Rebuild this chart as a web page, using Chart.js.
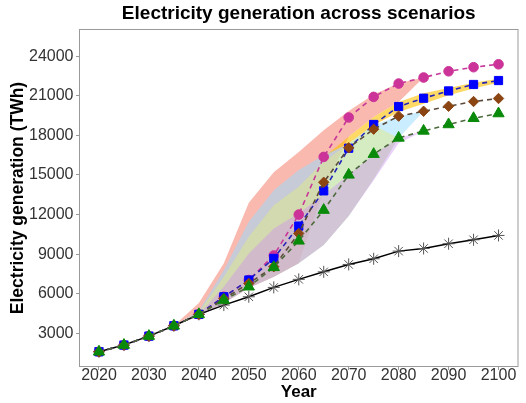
<!DOCTYPE html>
<html>
<head>
<meta charset="utf-8">
<script src="https://cdn.jsdelivr.net/npm/chart.js@4/dist/chart.umd.min.js"></script>
<style>
  html, body { margin: 0; padding: 0; background: #fff; }
  #wrap { width: 526px; height: 403px; }
</style>
</head>
<body>
<div id="wrap"><canvas id="chart"></canvas></div>
<script>
// Years on the x axis
const years = [2020, 2025, 2030, 2035, 2040, 2045, 2050, 2055, 2060, 2065, 2070, 2075, 2080, 2085, 2090, 2095, 2100];
const xTickValues = [2020, 2030, 2040, 2050, 2060, 2070, 2080, 2090, 2100];
const yTickValues = [3000, 6000, 9000, 12000, 15000, 18000, 21000, 24000];

// Scenario trajectories (TWh)
const circleSeries  = [1600, 2110, 2790, 3570, 4440, 5770, 7040, 8900, 12000, 16370, 19360, 20920, 21930, 22390, 22860, 23170, 23390];
const squareSeries  = [1600, 2110, 2790, 3570, 4440, 5770, 7040, 8680, 11130, 13800, 17030, 18830, 20190, 20820, 21370, 21860, 22160];
const diamondSeries = [1600, 2110, 2790, 3570, 4440, 5620, 6780, 8050, 10570, 14450, 17060, 18470, 19460, 19830, 20210, 20570, 20800];
const triangleSeries= [1600, 2110, 2790, 3570, 4440, 5520, 6530, 8000, 10010, 12340, 15010, 16580, 17810, 18340, 18830, 19300, 19660];
const baselineSeries= [1600, 2110, 2790, 3570, 4440, 5140, 5770, 6480, 7090, 7660, 8220, 8650, 9230, 9430, 9790, 10090, 10420];

// Ranges across models (lower / upper), null where no range is shown
const redLow    = [null, null, null, 3570, 4300, 5290, 6430, 7290, 8320, 13800, 17890, 19400, 20540, 22390, null, null, null];
const redHigh   = [null, null, null, 3570, 5300, 8320, 12900, 15200, 16750, 18400, 19850, 21100, 21950, 22390, null, null, null];
const goldLow   = [null, null, null, null, null, null, null, null, null, 16370, 17390, 18770, 19780, 20400, 21050, 21550, 22000];
const goldHigh  = [null, null, null, null, null, null, null, null, null, 16370, 17890, 19400, 20540, 21200, 21600, 22000, 22300];
const skyLow    = [null, null, null, 3570, 4300, 5290, 6430, 7290, 8320, 9700, 11900, 14700, 17810, 19830, null, null, null];
const skyHigh   = [null, null, null, 3570, 4700, 7790, 11450, 13850, 15370, 16500, 17390, 18770, 19460, 19830, null, null, null];
const greenLow  = [null, null, null, 3570, 4300, 5290, 6430, 7290, 8320, 9700, 11900, 14700, 17810, null, null, null, null];
const greenHigh = [null, null, null, 3570, 4600, 7290, 10310, 12700, 14100, 16000, 17390, 18770, 17810, null, null, null, null];
const violetLow = [null, null, null, 3570, 4300, 5290, 6430, 7290, 8320, 9700, 11900, 14600, 17400, 18340, null, null, null];
const violetHigh= [null, null, null, 3570, 4440, 6530, 9050, 10950, 12100, 13500, 15010, 16580, 17810, 18340, null, null, null];

function toPoints(values) {
  const out = [];
  years.forEach((yr, i) => { if (values[i] !== null) out.push({ x: yr, y: values[i] }); });
  return out;
}

function band(low, high, color, order) {
  return [
    { data: toPoints(low), xAxisID: 'x', yAxisID: 'y', borderWidth: 0, pointRadius: 0, fill: false, order: order },
    { data: toPoints(high), xAxisID: 'x', yAxisID: 'y', borderWidth: 0, pointRadius: 0, fill: '-1', backgroundColor: color, order: order }
  ];
}

function scenario(values, lineColor, markColor, style, radius, order) {
  return {
    data: toPoints(values), xAxisID: 'x', yAxisID: 'y',
    borderColor: lineColor, borderWidth: 1.6, borderDash: [5, 4],
    pointStyle: style, pointRadius: radius,
    pointBackgroundColor: markColor, pointBorderColor: markColor, pointBorderWidth: 1,
    fill: false, order: order, tension: 0
  };
}

const FONT = "'Liberation Sans', Arial, sans-serif";

const panelBorder = {
  id: 'panelBorder',
  afterDatasetsDraw(chart) {
    const { ctx, chartArea: { left, top, right, bottom } } = chart;
    ctx.save();
    ctx.strokeStyle = '#9a9a9a';
    ctx.lineWidth = 1;
    ctx.strokeRect(left + 0.5, top + 0.5, right - left - 1, bottom - top - 1);
    ctx.restore();
  }
};

const datasets = [
  ...band(redLow, redHigh, 'rgba(245,115,95,0.5)', 20),
  ...band(goldLow, goldHigh, 'rgba(255,192,0,0.6)', 19),
  ...band(skyLow, skyHigh, 'rgba(150,220,255,0.5)', 18),
  ...band(greenLow, greenHigh, 'rgba(226,236,136,0.5)', 17),
  ...band(violetLow, violetHigh, 'rgba(205,145,240,0.42)', 16),
  {
    data: toPoints(baselineSeries), xAxisID: 'x', yAxisID: 'y',
    borderColor: '#000', borderWidth: 1.5, pointStyle: 'star', pointRadius: 6,
    pointBorderColor: '#555', pointBackgroundColor: '#555', pointBorderWidth: 1,
    fill: false, order: 6, tension: 0
  },
  scenario(circleSeries, '#c8389a', '#cc3399', 'circle', 4.8, 5),
  scenario(squareSeries, '#2525b8', '#0000ff', 'rect', 5.8, 4),
  scenario(diamondSeries, '#5a4a3a', '#8b4513', 'rectRot', 5.2, 3),
  scenario(triangleSeries, '#4d6a3d', '#0a8a0a', 'triangle', 6.5, 2)
];

new Chart(document.getElementById('chart'), {
  type: 'line',
  data: { datasets },
  plugins: [panelBorder],
  options: {
    responsive: true, maintainAspectRatio: false, animation: false, devicePixelRatio: 1,
    layout: { padding: 0 },
    plugins: { legend: { display: false }, tooltip: { enabled: false }, title: { display: false } },
    scales: {
      top: {
        type: 'linear', position: 'top', min: 2016, max: 2104,
        ticks: { display: false }, grid: { display: false }, border: { display: false },
        title: { display: true, text: 'Electricity generation across scenarios', color: '#000',
                 font: { family: FONT, size: 19, weight: 'bold' }, padding: { top: 2.8, bottom: 0 } },
        afterFit: s => { s.height = 29; }
      },
      x: {
        type: 'linear', position: 'bottom', min: 2016, max: 2104,
        afterBuildTicks: s => { s.ticks = xTickValues.map(v => ({ value: v })); },
        ticks: { color: '#333', font: { family: FONT, size: 16 }, padding: -3.8, maxRotation: 0, autoSkip: false,
                 callback: v => String(v) },
        grid: { display: true, drawOnChartArea: false, drawTicks: true, tickLength: 3, color: '#9a9a9a' },
        border: { display: false },
        title: { display: true, text: 'Year', color: '#000', font: { family: FONT, size: 17, weight: 'bold' },
                 padding: { top: 0, bottom: 0 } },
        afterFit: s => { s.height = 36; }
      },
      y: {
        type: 'linear', position: 'left', min: 447, max: 26066,
        afterBuildTicks: s => { s.ticks = yTickValues.map(v => ({ value: v })); },
        ticks: { color: '#333', font: { family: FONT, size: 16 }, padding: 2.5, autoSkip: false,
                 callback: v => String(v) },
        grid: { display: true, drawOnChartArea: false, drawTicks: true, tickLength: 3, color: '#9a9a9a' },
        border: { display: false },
        title: { display: true, text: 'Electricity generation (TWh)', color: '#000',
                 font: { family: FONT, size: 17.5, weight: 'bold' }, padding: { top: 8, bottom: 0 } },
        afterFit: s => { s.width = 79; }
      }
    }
  }
});
</script>
</body>
</html>
